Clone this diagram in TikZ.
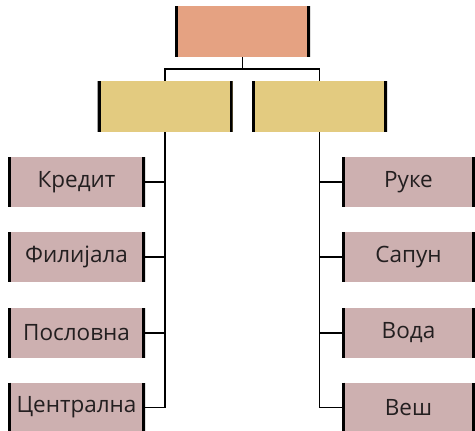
\documentclass[tikz,border=0pt]{standalone}
\usepackage{fontspec}
\setmainfont{Open Sans}
\definecolor{topc}{HTML}{E5A282}
\definecolor{midc}{HTML}{E3CB80}
\definecolor{leafc}{HTML}{CDB0B0}
\definecolor{txt}{HTML}{231F20}
\tikzset{
  sidebars/.style={path picture={
    \draw[line width=6pt] (path picture bounding box.north west) -- (path picture bounding box.south west);
    \draw[line width=6pt] (path picture bounding box.north east) -- (path picture bounding box.south east);}},
  topbox/.style={fill=topc, minimum width=135pt, minimum height=51pt, inner sep=0pt, sidebars},
  midbox/.style={fill=midc, minimum width=135pt, minimum height=51pt, inner sep=0pt, sidebars},
  leafbox/.style={fill=leafc, minimum width=137pt, minimum height=50pt, inner sep=0pt, sidebars,
    text=txt, font=\fontsize{22.5}{26}\selectfont},
  conn/.style={line width=1.1pt, black}
}
\begin{document}
\begin{tikzpicture}[x=1pt,y=-1pt]
\useasboundingbox (0,0) rectangle (475,431);
\node[topbox] (top) at (242.5,31.5) {};
\node[midbox] (midL) at (165,106.5) {};
\node[midbox] (midR) at (319.5,106.5) {};
\coordinate (bus) at (242.5,69);
\node[leafbox] (l1) at (76.5,182) {Кредит};
\node[leafbox] (l2) at (76.5,257) {Филијала};
\node[leafbox] (l3) at (76.5,333) {Пословна};
\node[leafbox] (l4) at (76.5,407.5) {Централна};
\node[leafbox, minimum width=133pt] (r1) at (408.5,182) {Руке};
\node[leafbox, minimum width=133pt] (r2) at (408.5,257) {Сапун};
\node[leafbox, minimum width=133pt] (r3) at (408.5,333) {Вода};
\node[leafbox, minimum width=133pt] (r4) at (408.5,407.5) {Веш};
\draw[conn] (top.south) -- (bus);
\draw[conn] (midL.north) |- (bus) -| (midR.north);
\draw[conn] (midL.south) |- (l4.east);
\draw[conn] (l1.east) -- (l1.east -| midL.south);
\draw[conn] (l2.east) -- (l2.east -| midL.south);
\draw[conn] (l3.east) -- (l3.east -| midL.south);
\draw[conn] (midR.south) |- (r4.west);
\draw[conn] (r1.west) -- (r1.west -| midR.south);
\draw[conn] (r2.west) -- (r2.west -| midR.south);
\draw[conn] (r3.west) -- (r3.west -| midR.south);
\end{tikzpicture}
\end{document}
